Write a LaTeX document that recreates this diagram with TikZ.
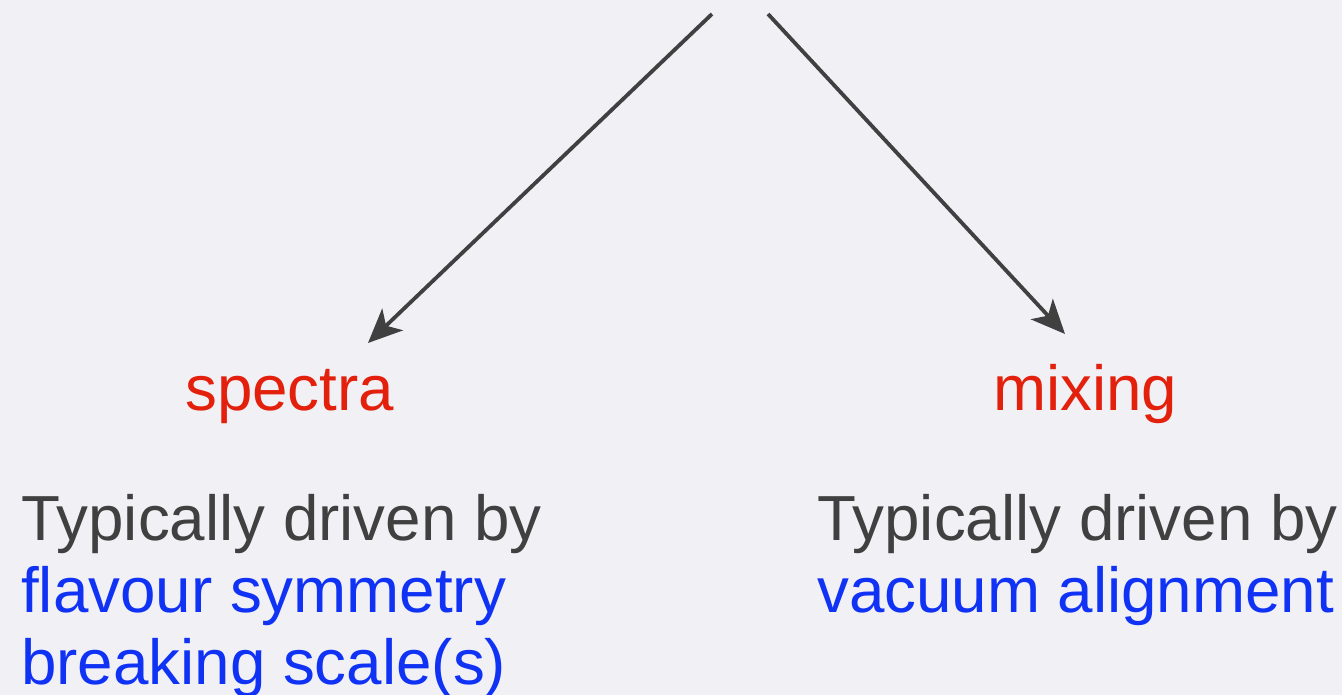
\documentclass[tikz,border=0pt]{standalone}
\usepackage{fontspec}
\setmainfont{Liberation Sans}
\usetikzlibrary{arrows.meta}
\definecolor{bg}{HTML}{F1F0F5}
\definecolor{txtgray}{HTML}{404040}
\definecolor{hred}{HTML}{E3200B}
\definecolor{hblue}{HTML}{1032F5}
\tikzset{
  big/.style={font=\fontsize{63.7}{72}\selectfont, inner sep=0pt, anchor=base west, align=left},
  conn/.style={draw=txtgray, line width=3.8pt, -{Stealth[length=34pt,width=30pt,inset=9pt]}},
}
\begin{document}
\begin{tikzpicture}[x=1pt,y=-1pt]
\fill[bg] (0,0) rectangle (1342,695);
\useasboundingbox (0,0) rectangle (1342,695);
\coordinate (srcL) at (712,14);
\coordinate (srcR) at (768,14);
\coordinate (endL) at (368,343);
\coordinate (endR) at (1065,334);
\draw[conn] (srcL) -- (endL);
\draw[conn] (srcR) -- (endR);
\node[big, text=hred] (spectra) at (185,410) {spectra};
\node[big, text=hred] (mixing) at (993,410) {mixing};
\node[big, text=txtgray] (l1) at (21,540) {Typically driven by};
\node[big, text=hblue] (l2) at (21,612) {flavour symmetry};
\node[big, text=hblue] (l3) at (21,684) {breaking scale(s)};
\node[big, text=txtgray] (r1) at (817,540) {Typically driven by};
\node[big, text=hblue] (r2) at (817,612) {vacuum alignment};
\end{tikzpicture}
\end{document}
